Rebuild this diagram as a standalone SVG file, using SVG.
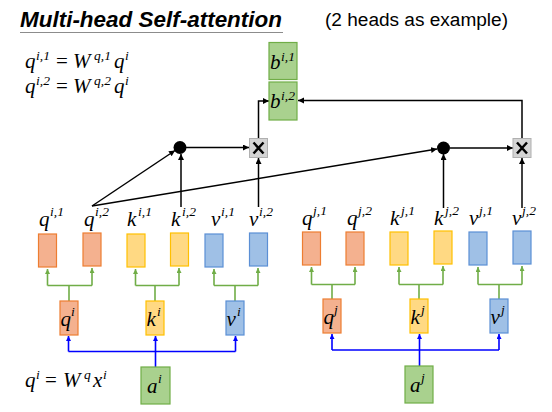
<svg xmlns="http://www.w3.org/2000/svg" width="552" height="412" viewBox="0 0 552 412">
<style>
.m{font-family:"Liberation Serif","DejaVu Serif",serif;font-style:italic;fill:#000;font-size:21px}
.n{font-style:normal}
.s{font-size:13.5px}
.q{fill:#f4b18f;stroke:#ed7d31;stroke-width:1.2}
.k{fill:#ffd983;stroke:#ffc000;stroke-width:1.2}
.v{fill:#9fc0e6;stroke:#5b8fd5;stroke-width:1.2}
.a{fill:#a9d18e;stroke:#70ad47;stroke-width:1.2}
.x{fill:#d4d4d4;stroke:#b0b0b0;stroke-width:1}
.blk{stroke:#000;stroke-width:1.5;fill:none}
.grn{stroke:#70ad47;stroke-width:1.6;fill:none}
.blu{stroke:#0000ff;stroke-width:1.6;fill:none}
.t{font-family:"Liberation Sans","Open Sans",sans-serif;fill:#000}
</style>
<defs>
<marker id="ab" markerUnits="userSpaceOnUse" markerWidth="8" markerHeight="8" refX="6" refY="3" orient="auto"><path d="M0,0 L6,3 L0,6 z" fill="#000"/></marker>
<marker id="ag" markerUnits="userSpaceOnUse" markerWidth="8" markerHeight="8" refX="5" refY="2.5" orient="auto"><path d="M0,0 L5,2.5 L0,5 z" fill="#70ad47"/></marker>
<marker id="au" markerUnits="userSpaceOnUse" markerWidth="8" markerHeight="8" refX="5" refY="2.5" orient="auto"><path d="M0,0 L5,2.5 L0,5 z" fill="#0000ff"/></marker>
</defs>

<g id="title">
<text class="t" x="20" y="27" font-size="22" font-weight="bold" font-style="italic" textLength="262" lengthAdjust="spacingAndGlyphs">Multi-head Self-attention</text>
<line x1="20" y1="32.5" x2="283" y2="32.5" stroke="#8c8c8c" stroke-width="1.2"/>
<text class="t" x="325" y="26" font-size="18" textLength="183" lengthAdjust="spacingAndGlyphs">(2 heads as example)</text>
</g>

<g id="equations">
<text class="m" y="68"><tspan x="25">q</tspan><tspan x="36" dy="-8" class="s">i,1</tspan><tspan x="56" dy="8" class="n">=</tspan><tspan x="73">W</tspan><tspan x="94" dy="-8" class="s">q,1</tspan><tspan x="114" dy="8">q</tspan><tspan x="125" dy="-8" class="s">i</tspan></text>
<text class="m" y="93"><tspan x="25">q</tspan><tspan x="36" dy="-8" class="s">i,2</tspan><tspan x="56" dy="8" class="n">=</tspan><tspan x="73">W</tspan><tspan x="94" dy="-8" class="s">q,2</tspan><tspan x="114" dy="8">q</tspan><tspan x="125" dy="-8" class="s">i</tspan></text>
<text class="m" y="387"><tspan x="25">q</tspan><tspan x="36" dy="-8" class="s">i</tspan><tspan x="45" dy="8" class="n">=</tspan><tspan x="63">W</tspan><tspan x="84" dy="-8" class="s">q</tspan><tspan x="93" dy="8">x</tspan><tspan x="103" dy="-8" class="s">i</tspan></text>
</g>

<g id="connectors">
<line class="blk" x1="92" y1="206" x2="175" y2="150.5" marker-end="url(#ab)"/>
<line class="blk" x1="92" y1="206" x2="437" y2="149" marker-end="url(#ab)"/>
<line class="blk" x1="181" y1="207" x2="181" y2="154" marker-end="url(#ab)"/>
<line class="blk" x1="258.5" y1="207" x2="258.5" y2="158" marker-end="url(#ab)"/>
<line class="blk" x1="186" y1="147.5" x2="249" y2="147.5" marker-end="url(#ab)"/>
<polyline class="blk" points="258.5,138 258.5,101 269,101" marker-end="url(#ab)"/>
<line class="blk" x1="443.5" y1="208" x2="443.5" y2="154" marker-end="url(#ab)"/>
<line class="blk" x1="522" y1="208" x2="522" y2="158" marker-end="url(#ab)"/>
<line class="blk" x1="450" y1="148" x2="513" y2="148" marker-end="url(#ab)"/>
<polyline class="blk" points="522,138 522,100.5 298,100.5" marker-end="url(#ab)"/>
<polyline class="grn" points="69,301 69,285.5"/>
<polyline class="grn" points="47.5,285.5 92,285.5"/>
<line class="grn" x1="47.5" y1="285.5" x2="47.5" y2="269" marker-end="url(#ag)"/>
<line class="grn" x1="92" y1="285.5" x2="92" y2="268" marker-end="url(#ag)"/>
<polyline class="grn" points="155,301 155,285.5"/>
<polyline class="grn" points="135.5,285.5 179,285.5"/>
<line class="grn" x1="135.5" y1="285.5" x2="135.5" y2="269" marker-end="url(#ag)"/>
<line class="grn" x1="179" y1="285.5" x2="179" y2="268" marker-end="url(#ag)"/>
<polyline class="grn" points="235,301 235,285.5"/>
<polyline class="grn" points="214,285.5 258,285.5"/>
<line class="grn" x1="214" y1="285.5" x2="214" y2="269" marker-end="url(#ag)"/>
<line class="grn" x1="258" y1="285.5" x2="258" y2="268" marker-end="url(#ag)"/>
<polyline class="grn" points="332,299 332,284.5"/>
<polyline class="grn" points="311.5,284.5 355,284.5"/>
<line class="grn" x1="311.5" y1="284.5" x2="311.5" y2="267" marker-end="url(#ag)"/>
<line class="grn" x1="355" y1="284.5" x2="355" y2="267" marker-end="url(#ag)"/>
<polyline class="grn" points="419,299 419,284.5"/>
<polyline class="grn" points="399,284.5 443,284.5"/>
<line class="grn" x1="399" y1="284.5" x2="399" y2="267" marker-end="url(#ag)"/>
<line class="grn" x1="443" y1="284.5" x2="443" y2="266" marker-end="url(#ag)"/>
<polyline class="grn" points="499,299 499,284.5"/>
<polyline class="grn" points="478,284.5 522,284.5"/>
<line class="grn" x1="478" y1="284.5" x2="478" y2="267" marker-end="url(#ag)"/>
<line class="grn" x1="522" y1="284.5" x2="522" y2="266" marker-end="url(#ag)"/>
<polyline class="blu" points="68.5,351.5 235.5,351.5"/>
<line class="blu" x1="68.5" y1="351.5" x2="68.5" y2="336" marker-end="url(#au)"/>
<line class="blu" x1="155.5" y1="367" x2="155.5" y2="336" marker-end="url(#au)"/>
<line class="blu" x1="235.5" y1="351.5" x2="235.5" y2="336" marker-end="url(#au)"/>
<polyline class="blu" points="332,350 499,350"/>
<line class="blu" x1="332" y1="350" x2="332" y2="334" marker-end="url(#au)"/>
<line class="blu" x1="419.5" y1="366" x2="419.5" y2="334" marker-end="url(#au)"/>
<line class="blu" x1="499" y1="350" x2="499" y2="334" marker-end="url(#au)"/>
</g>

<g id="b-i1"><rect class="a" x="269" y="42.5" width="28" height="37"/><text class="m" y="69"><tspan x="270">b</tspan><tspan x="281" dy="-8" class="s">i,1</tspan></text></g>
<g id="b-i2"><rect class="a" x="269" y="82" width="28" height="38"/><text class="m" y="108"><tspan x="270">b</tspan><tspan x="281" dy="-8" class="s">i,2</tspan></text></g>

<g id="dot-i"><circle cx="180" cy="147.5" r="6.5" fill="#000"/></g>
<g id="mul-i"><rect class="x" x="249.5" y="138.5" width="18" height="19"/><path d="M253.5,142.5 L263.5,153.5 M263.5,142.5 L253.5,153.5" stroke="#000" stroke-width="2.5"/></g>
<g id="dot-j"><circle cx="443.5" cy="148" r="6.5" fill="#000"/></g>
<g id="mul-j"><rect class="x" x="513" y="138.5" width="18" height="19"/><path d="M517,142.5 L527,153.5 M527,142.5 L517,153.5" stroke="#000" stroke-width="2.5"/></g>

<g id="qi1"><rect class="q" x="38.5" y="234" width="18" height="33"/><text class="m" y="226"><tspan x="39">q</tspan><tspan x="50" dy="-10" class="s">i,1</tspan></text></g>
<g id="qi2"><rect class="q" x="83" y="233" width="18" height="33"/><text class="m" y="226"><tspan x="84">q</tspan><tspan x="95" dy="-10" class="s">i,2</tspan></text></g>
<g id="ki1"><rect class="k" x="127" y="234" width="18" height="33"/><text class="m" y="226"><tspan x="127">k</tspan><tspan x="138" dy="-10" class="s">i,1</tspan></text></g>
<g id="ki2"><rect class="k" x="170.5" y="233" width="18" height="33"/><text class="m" y="226"><tspan x="171">k</tspan><tspan x="182" dy="-10" class="s">i,2</tspan></text></g>
<g id="vi1"><rect class="v" x="205" y="234" width="18" height="33"/><text class="m" y="226"><tspan x="211">v</tspan><tspan x="221" dy="-10" class="s">i,1</tspan></text></g>
<g id="vi2"><rect class="v" x="249.5" y="233" width="18" height="33"/><text class="m" y="226"><tspan x="249">v</tspan><tspan x="259" dy="-10" class="s">i,2</tspan></text></g>

<g id="qj1"><rect class="q" x="302.5" y="232" width="18" height="33"/><text class="m" y="225"><tspan x="302">q</tspan><tspan x="313" dy="-10" class="s">j,1</tspan></text></g>
<g id="qj2"><rect class="q" x="346" y="232" width="18" height="33"/><text class="m" y="225"><tspan x="347">q</tspan><tspan x="358" dy="-10" class="s">j,2</tspan></text></g>
<g id="kj1"><rect class="k" x="390" y="232" width="18" height="33"/><text class="m" y="225"><tspan x="390">k</tspan><tspan x="401" dy="-10" class="s">j,1</tspan></text></g>
<g id="kj2"><rect class="k" x="434" y="231" width="18" height="33"/><text class="m" y="225"><tspan x="434">k</tspan><tspan x="445" dy="-10" class="s">j,2</tspan></text></g>
<g id="vj1"><rect class="v" x="469" y="232" width="18" height="33"/><text class="m" y="225"><tspan x="469">v</tspan><tspan x="479" dy="-10" class="s">j,1</tspan></text></g>
<g id="vj2"><rect class="v" x="513" y="231" width="18" height="33"/><text class="m" y="225"><tspan x="512">v</tspan><tspan x="522" dy="-10" class="s">j,2</tspan></text></g>

<g id="qi"><rect class="q" x="60" y="301" width="18" height="34"/><text class="m" y="326"><tspan x="60.5">q</tspan><tspan x="71" dy="-10" class="s">i</tspan></text></g>
<g id="ki"><rect class="k" x="146" y="301" width="18" height="34"/><text class="m" y="326"><tspan x="146.5">k</tspan><tspan x="157" dy="-10" class="s">i</tspan></text></g>
<g id="vi"><rect class="v" x="226" y="301" width="18" height="34"/><text class="m" y="326"><tspan x="226.5">v</tspan><tspan x="237" dy="-10" class="s">i</tspan></text></g>
<g id="qj"><rect class="q" x="323" y="299" width="18" height="34"/><text class="m" y="324"><tspan x="323.5">q</tspan><tspan x="334" dy="-10" class="s">j</tspan></text></g>
<g id="kj"><rect class="k" x="410" y="299" width="18" height="34"/><text class="m" y="324"><tspan x="410.5">k</tspan><tspan x="421" dy="-10" class="s">j</tspan></text></g>
<g id="vj"><rect class="v" x="490" y="299" width="18" height="34"/><text class="m" y="324"><tspan x="490.5">v</tspan><tspan x="501" dy="-10" class="s">j</tspan></text></g>

<g id="ai"><rect class="a" x="141" y="367" width="29" height="37"/><text class="m" y="393"><tspan x="147">a</tspan><tspan x="158" dy="-10" class="s">i</tspan></text></g>
<g id="aj"><rect class="a" x="405" y="366" width="28" height="37"/><text class="m" y="392"><tspan x="410">a</tspan><tspan x="421" dy="-10" class="s">j</tspan></text></g>
</svg>
